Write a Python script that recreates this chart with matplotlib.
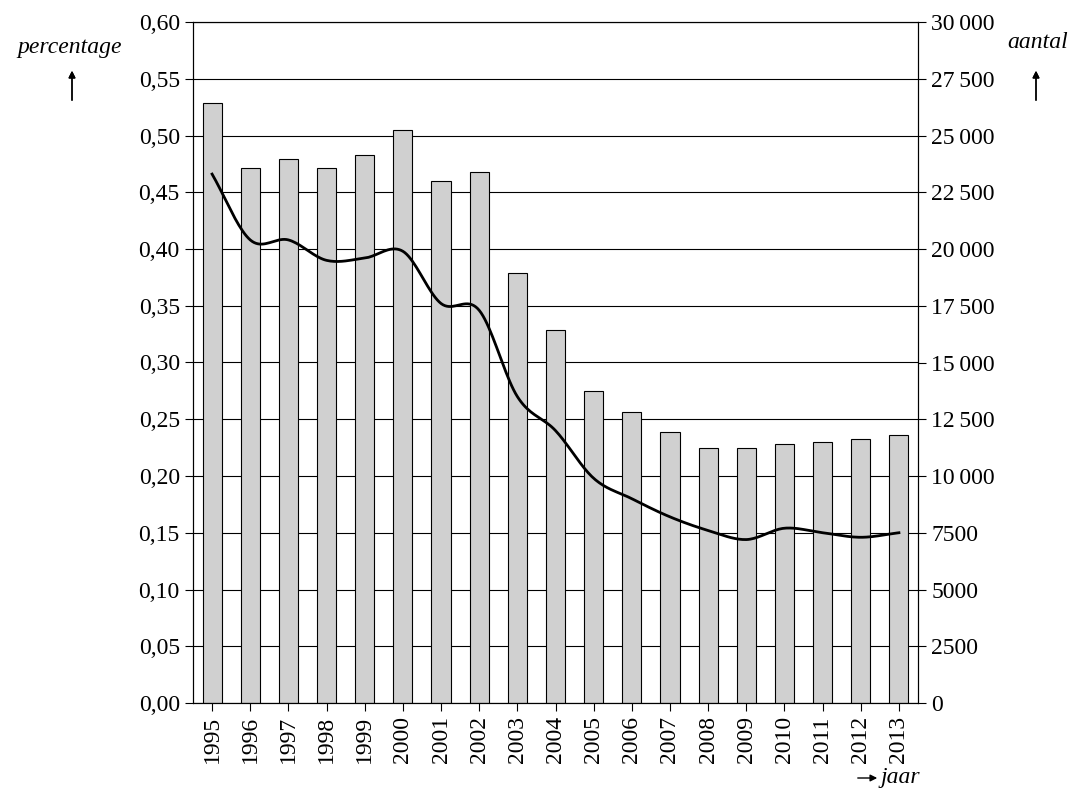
import numpy as np
import matplotlib.pyplot as plt

plt.rcParams['font.family'] = ['Liberation Serif', 'DejaVu Serif']

years = list(range(1995, 2014))
percentage = [0.529, 0.471, 0.479, 0.471, 0.483, 0.505, 0.460, 0.468, 0.379, 0.329,
              0.275, 0.256, 0.239, 0.225, 0.225, 0.228, 0.230, 0.233, 0.236]
aantal = [23300, 20400, 20400, 19500, 19600, 19900, 17600, 17300, 13500, 12000,
          9900, 9000, 8200, 7600, 7200, 7700, 7500, 7300, 7500]


def catmull_rom(x, y, n=20):
    x = np.asarray(x, float)
    y = np.asarray(y, float)
    px = np.concatenate([[2 * x[0] - x[1]], x, [2 * x[-1] - x[-2]]])
    py = np.concatenate([[2 * y[0] - y[1]], y, [2 * y[-1] - y[-2]]])
    xs, ys = [], []
    for i in range(1, len(px) - 2):
        t = np.linspace(0, 1, n, endpoint=False)
        for p, out in ((px, xs), (py, ys)):
            p0, p1, p2, p3 = p[i - 1:i + 3]
            out.extend(0.5 * (2 * p1 + (-p0 + p2) * t + (2 * p0 - 5 * p1 + 4 * p2 - p3) * t ** 2
                              + (-p0 + 3 * p1 - 3 * p2 + p3) * t ** 3))
    xs.append(x[-1])
    ys.append(y[-1])
    return xs, ys


fig = plt.figure(figsize=(10.72, 7.95), dpi=100)
ax = fig.add_axes([193 / 1072, 1 - 703 / 795, 725 / 1072, 681 / 795])
pos = np.arange(len(years))
ax.set_axisbelow(True)
ax.yaxis.grid(True, color='black', linewidth=0.8)
ax.bar(pos, percentage, width=0.5, color='#d0d0d0', edgecolor='black', linewidth=0.8)
ax.set_xlim(-0.5, len(years) - 0.5)
ax.set_ylim(0, 0.6)
yt = np.arange(0, 0.601, 0.05)
ax.set_yticks(yt)
ax.set_yticklabels([f"{v:.2f}".replace('.', ',') for v in yt], fontsize=17)
ax.set_xticks(pos)
ax.set_xticklabels(years, rotation=90, fontsize=17)
ax.tick_params(direction='out', length=6, color='black')

ax2 = ax.twinx()
ax2.set_ylim(0, 30000)
rt = np.arange(0, 30001, 2500)
ax2.set_yticks(rt)
ax2.set_yticklabels([f"{v:,}".replace(',', '\u2009') if v >= 10000 else str(v) for v in rt],
                    fontsize=17)
ax2.tick_params(direction='out', length=6)
sx, sy = catmull_rom(pos, aantal)
ax2.plot(sx, sy, color='black', linewidth=2)

arrow = dict(arrowstyle='-|>', color='black', lw=1, mutation_scale=10)
fig.text(70 / 1072, 1 - 48 / 795, 'percentage', style='italic', fontsize=17, ha='center', va='center')
fig.text(1038 / 1072, 1 - 42 / 795, 'aantal', style='italic', fontsize=17, ha='center', va='center')
for xp in (72, 1036):
    fig.add_artist(plt.annotate('', xy=(xp / 1072, 1 - 68 / 795), xytext=(xp / 1072, 1 - 103 / 795),
                                xycoords='figure fraction', arrowprops=arrow))
plt.annotate('', xy=(880 / 1072, 1 - 778 / 795), xytext=(855 / 1072, 1 - 778 / 795),
             xycoords='figure fraction', arrowprops=arrow)
fig.text(900 / 1072, 1 - 778 / 795, 'jaar', style='italic', fontsize=17, ha='center', va='center')

fig.savefig('out.png')
